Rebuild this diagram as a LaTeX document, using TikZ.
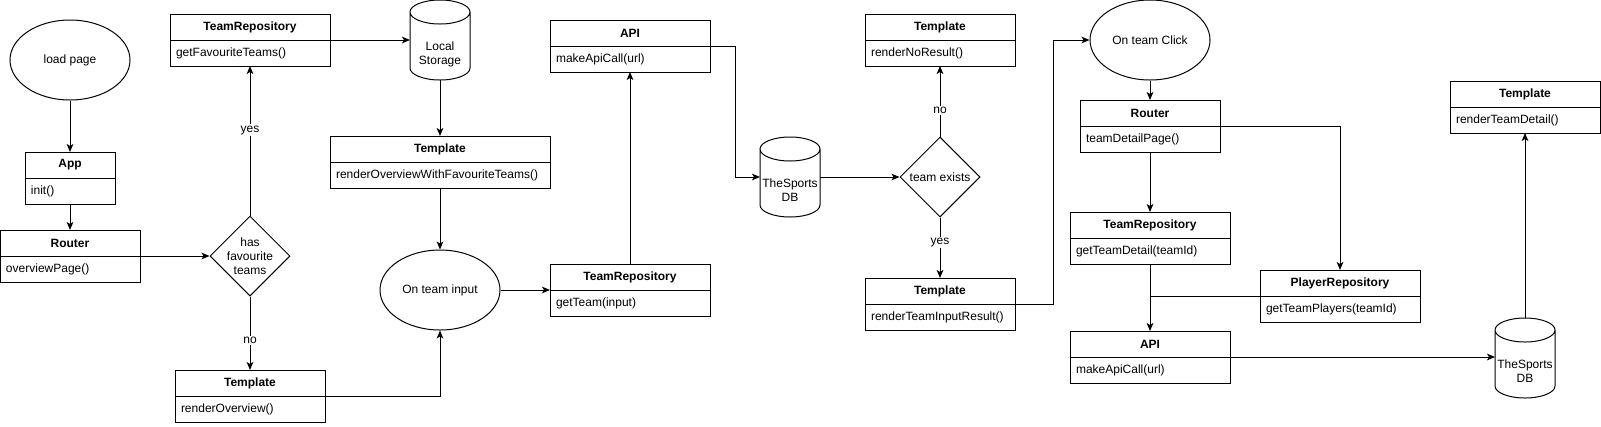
\documentclass[tikz,border=0pt]{standalone}
\usepackage{fontspec}
\setmainfont{Liberation Sans}
\usetikzlibrary{shapes.geometric,arrows.meta,positioning}

\newcommand{\diagfont}{\fontsize{9pt}{10.5pt}\selectfont}

\begin{document}
\begin{tikzpicture}[x=0.75pt,y=-0.75pt,line width=0.75pt]
      \tikzset{
        hdr/.style={draw,outer sep=0pt,inner sep=0pt,minimum width=#1*0.75pt,minimum height=19.5pt,font=\diagfont\bfseries},
        body/.style={draw,outer sep=0pt,inner xsep=4.5pt,inner ysep=0pt,text width=#1*0.75pt-9pt,minimum height=19.5pt,align=left,font=\diagfont},
        event/.style={ellipse,draw,minimum width=90pt,minimum height=60pt,inner sep=0pt,font=\diagfont},
        choice/.style={diamond,draw,aspect=1,minimum width=60pt,minimum height=60pt,inner sep=-4pt,align=center,font=\diagfont},
        store/.style={outer sep=0pt,minimum width=45pt,minimum height=60pt,inner sep=0pt,text height=47.5pt,text depth=11pt,align=center,font=\diagfont},
        flow/.style={-{Stealth[length=6pt,width=5pt,inset=1.5pt]}},
        answer/.style={fill=white,inner sep=1pt,font=\diagfont}
      }

      \path[use as bounding box,fill=white] (0,0) rectangle (1601,426);

      \node[event] (load) at (70,60) {load page};
      \node[hdr=90] (app) at (70,165) {App};
      \node[body=90,below=0pt of app] (appm) {init()};
      \node[hdr=140] (router) at (70,243) {Router};
      \node[body=140,below=0pt of router] (routerm) {overviewPage()};
      \node[choice] (hasfav) at (250,256) {has\\favourite\\teams};
      \node[hdr=160] (trfav) at (250,27) {TeamRepository};
      \node[body=160,below=0pt of trfav] (trfavm) {getFavouriteTeams()};
      \node[hdr=150] (tplov) at (250,383) {Template};
      \node[body=150,below=0pt of tplov] (tplovm) {renderOverview()};
      \node[store] (local) at (440,40) {Local\\Storage};
      \node[hdr=220] (tplfav) at (440,149) {Template};
      \node[body=220,below=0pt of tplfav] (tplfavm) {renderOverviewWithFavouriteTeams()};
      \node[event] (input) at (440,290) {On team input};
      \node[hdr=160] (trget) at (630,277) {TeamRepository};
      \node[body=160,below=0pt of trget] (trgetm) {getTeam(input)};
      \node[hdr=160] (api) at (630,33) {API};
      \node[body=160,below=0pt of api] (apim) {makeApiCall(url)};
      \node[store] (sports) at (790,177) {TheSports\\DB};
      \node[choice] (exists) at (940,177) {team exists};
      \node[hdr=150] (tplno) at (940,27) {Template};
      \node[body=150,below=0pt of tplno] (tplnom) {renderNoResult()};
      \node[hdr=150] (tplres) at (940,291) {Template};
      \node[body=150,below=0pt of tplres] (tplresm) {renderTeamInputResult()};
      \node[event] (click) at (1150,40) {On team Click};
      \node[hdr=140] (router2) at (1150,113) {Router};
      \node[body=140,below=0pt of router2] (router2m) {teamDetailPage()};
      \node[hdr=160] (trdet) at (1150,225) {TeamRepository};
      \node[body=160,below=0pt of trdet] (trdetm) {getTeamDetail(teamId)};
      \node[hdr=160] (plrepo) at (1340,283) {PlayerRepository};
      \node[body=160,below=0pt of plrepo] (plrepom) {getTeamPlayers(teamId)};
      \node[hdr=160] (api2) at (1150,344) {API};
      \node[body=160,below=0pt of api2] (api2m) {makeApiCall(url)};
      \node[store] (sports2) at (1525,358) {TheSports\\DB};
      \node[hdr=150] (tpldet) at (1525,94) {Template};
      \node[body=150,below=0pt of tpldet] (tpldetm) {renderTeamDetail()};

      % cylinder outlines round the store nodes
      \foreach \s in {local,sports,sports2}
        \draw ([yshift=-9pt]\s.north west) -- ([yshift=9pt]\s.south west)
              arc[start angle=180,end angle=360,x radius=22.5pt,y radius=9pt]
              -- ([yshift=-9pt]\s.north east)
              ([yshift=-9pt]\s.north) ellipse[x radius=22.5pt,y radius=9pt];

      \draw[flow] (load) -- (app);
      \draw[flow] (appm) -- (router);
      \draw[flow] (router.south east) -- (hasfav.west);
      \draw[flow] (hasfav.north) -- node[answer,pos=0.57] {yes} (trfavm.south);
      \draw[flow] (hasfav.south) -- node[answer,pos=0.6] {no} (tplov.north);
      \draw[flow] (trfav.south east) -- (trfav.south east -| local.west);
      \draw[flow] (local.south) -- (tplfav.north);
      \draw[flow] (tplfavm.south) -- (input.north);
      \draw[flow] (tplov.south east) -| (input.south);
      \draw[flow] (input.east) -- (trget.south west);
      \draw[flow] (trget.north) -- (apim.south);
      \draw[flow] (api.south east) -- ++(25,0) |- (sports.west);
      \draw[flow] (sports.east) -- (exists.west);
      \draw[flow] (exists.north) -- node[answer,pos=0.37] {no} (tplnom.south);
      \draw[flow] (exists.south) -- node[answer,pos=0.41] {yes} (tplres.north);
      \draw[flow] (tplres.south east) -- ++(38,0) |- (click.west);
      \draw[flow] (click.south) -- (router2.north);
      \draw[flow] (router2m.south) -- (trdet.north);
      \draw[flow] (router2.south east) -| (plrepo.north);
      \draw[flow] (trdetm.south) -- (api2.north);
      \draw (plrepo.south west) -- (plrepo.south west -| trdetm.south);
      \draw[flow] (api2.south east) -- (api2.south east -| sports2.west);
      \draw[flow] (sports2.north) -- (tpldetm.south);
    \end{tikzpicture}
\end{document}
